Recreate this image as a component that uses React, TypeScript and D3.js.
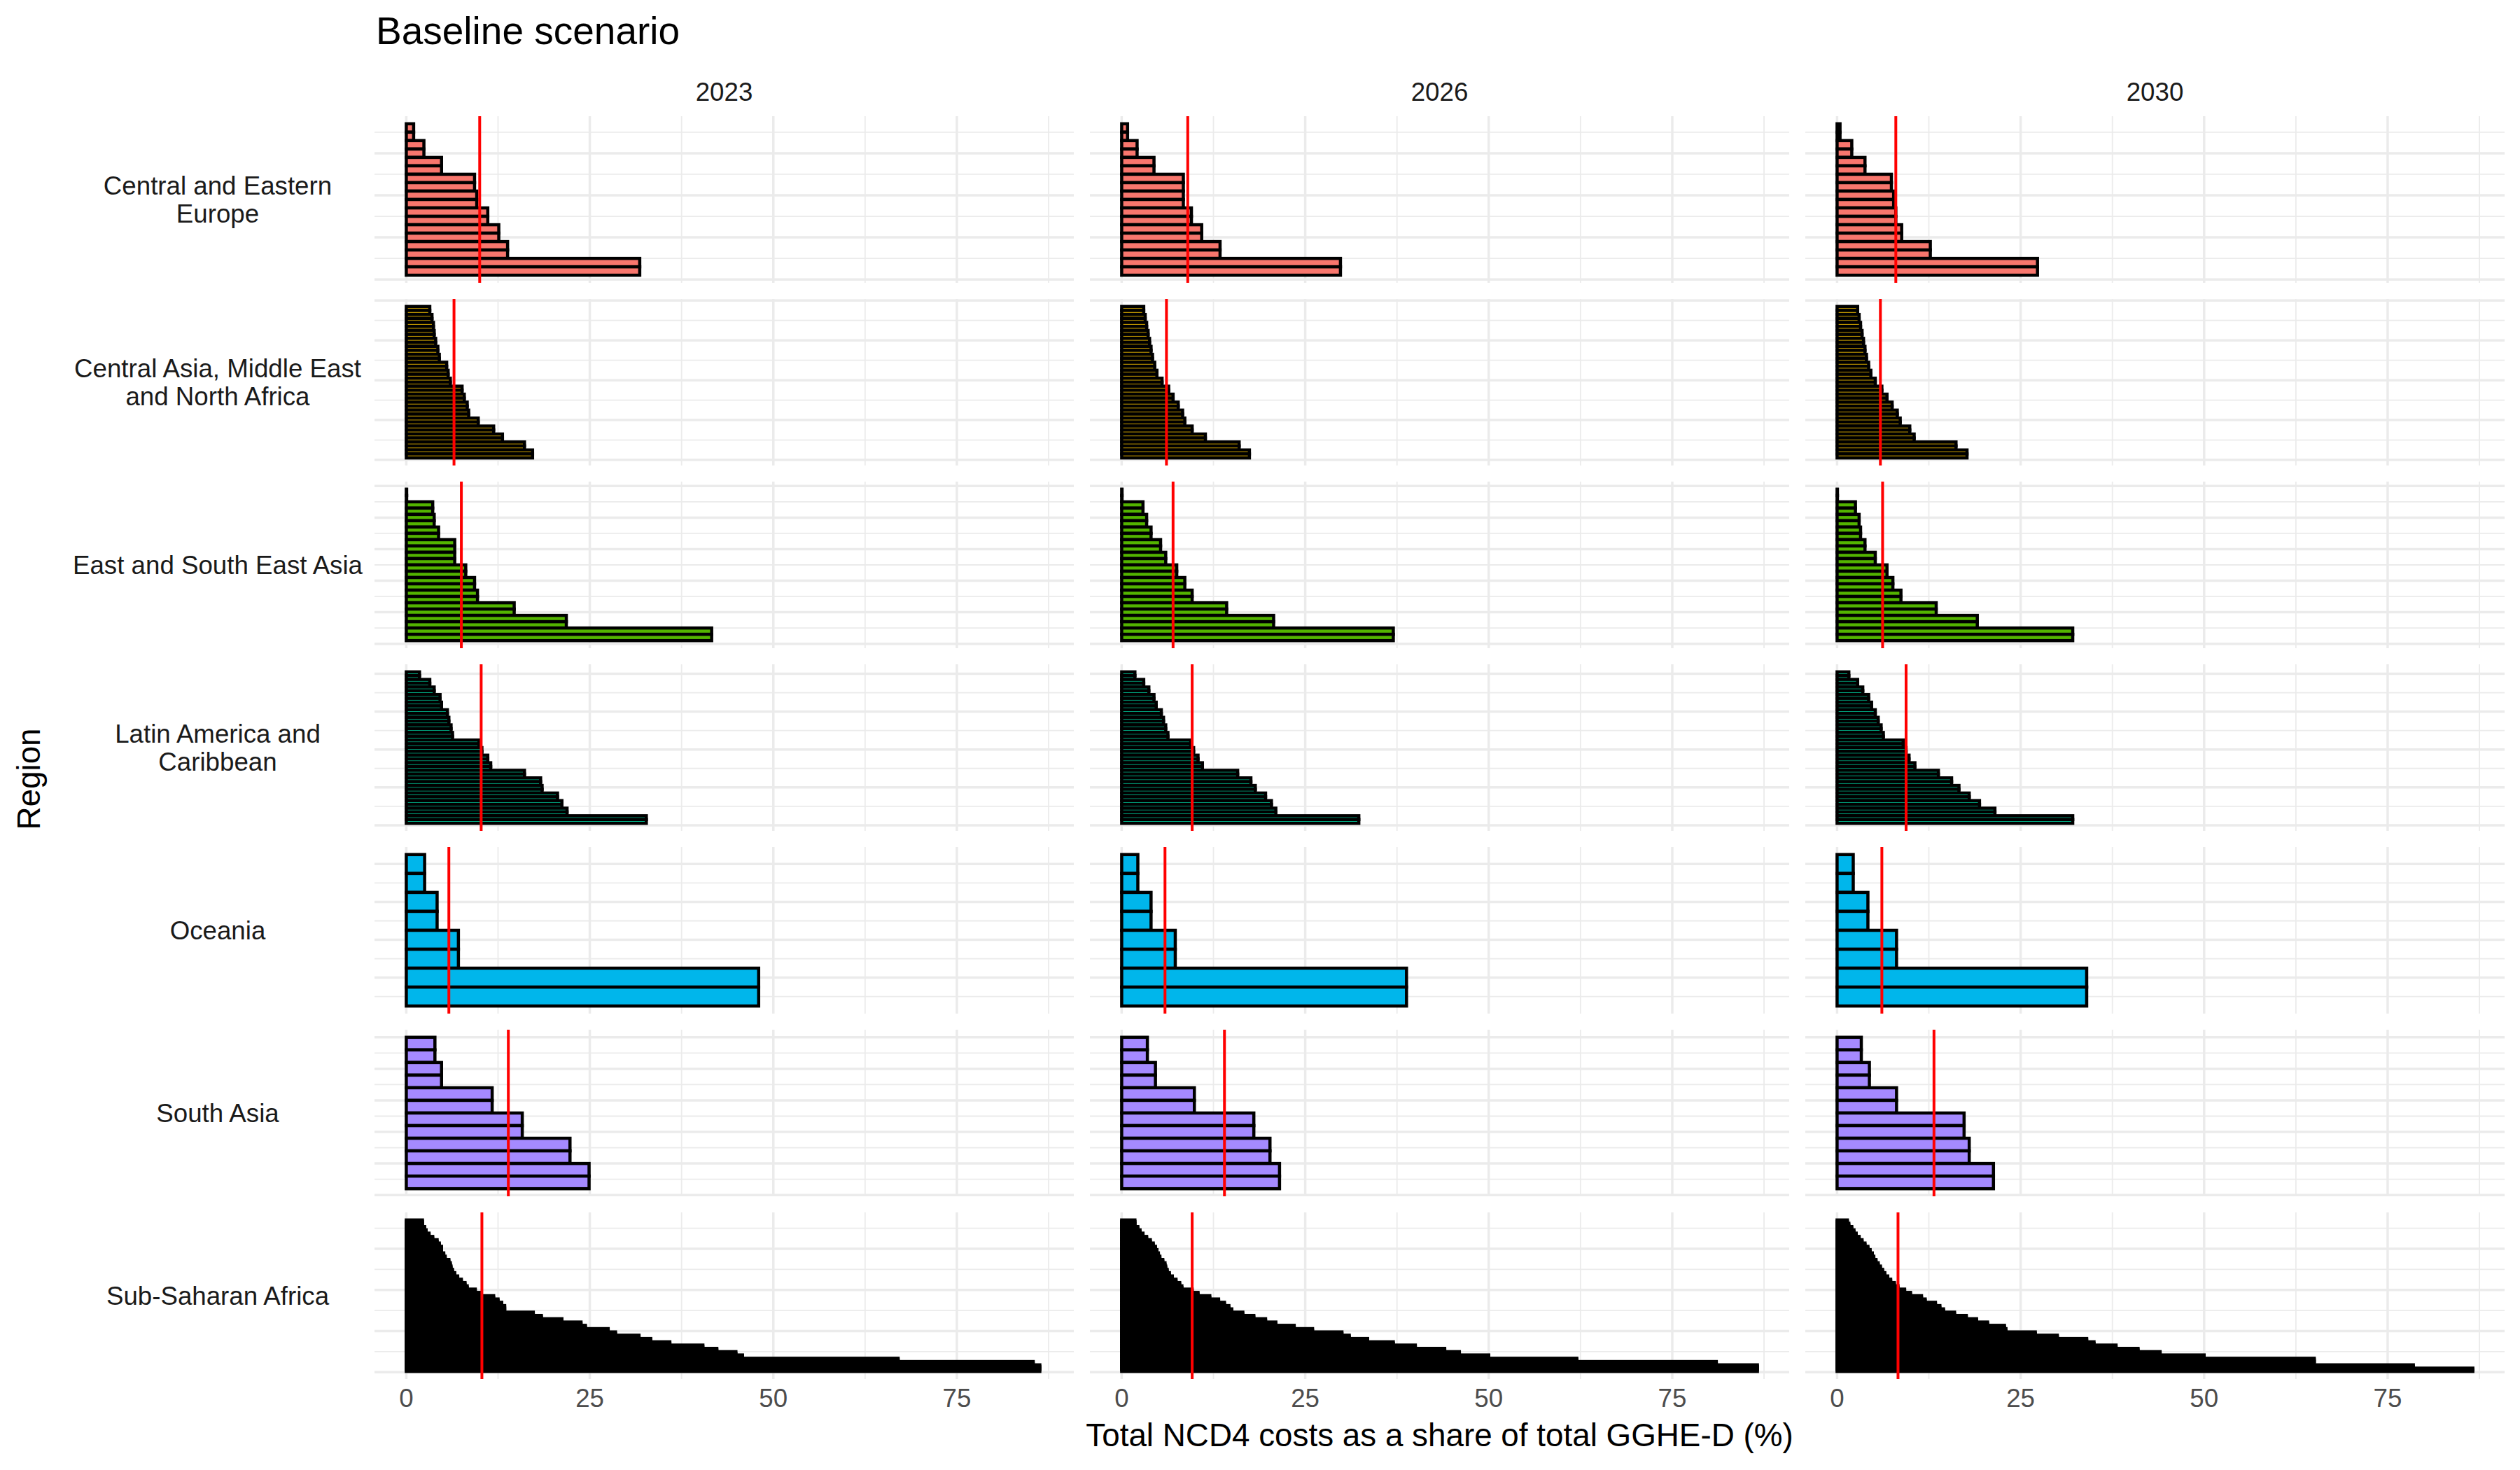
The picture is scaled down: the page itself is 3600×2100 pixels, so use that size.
import React from 'react';
import * as d3 from 'd3';

const years = ['2023', '2026', '2030'];

const regionLabels = [
  ['Central and Eastern', 'Europe'],
  ['Central Asia, Middle East', 'and North Africa'],
  ['East and South East Asia'],
  ['Latin America and', 'Caribbean'],
  ['Oceania'],
  ['South Asia'],
  ['Sub-Saharan Africa'],
];

const regionFills = ['#F8766D', '#C49A00', '#53B400', '#00C094', '#00B6EB', '#A58AFF', '#FB61D7'];

// bar values per panel, listed from the top bar down (%)
const cee2023 = [1.0, 1.0, 2.4, 2.4, 4.8, 4.8, 9.3, 9.3, 9.6, 9.6, 11.1, 11.1, 12.6, 12.6, 13.8, 13.8, 31.8, 31.8];
const cee2026 = [0.8, 0.8, 2.1, 2.1, 4.4, 4.4, 8.4, 8.4, 8.4, 8.4, 9.5, 9.5, 10.9, 10.9, 13.4, 13.4, 29.8, 29.8];
const cee2030 = [0.4, 0.4, 2.0, 2.0, 3.8, 3.8, 7.4, 7.4, 7.7, 7.7, 8.0, 8.0, 8.8, 8.8, 12.7, 12.7, 27.3, 27.3];

const cam2023 = [3.2, 3.2, 3.5, 3.5, 3.7, 3.7, 3.8, 3.8, 4.0, 4.0, 4.3, 4.3, 4.5, 4.5, 5.5, 5.5, 5.7, 5.7, 6.0, 6.0,
  7.6, 7.6, 7.9, 7.9, 8.3, 8.3, 8.5, 8.5, 9.8, 9.8, 11.9, 11.9, 13.1, 13.1, 16.1, 16.1, 17.2, 17.2];
const cam2026 = [3.0, 3.0, 3.2, 3.2, 3.4, 3.4, 3.6, 3.6, 3.8, 3.8, 4.0, 4.0, 4.2, 4.2, 4.5, 4.5, 4.8, 4.8, 5.5, 5.5,
  6.4, 6.4, 7.0, 7.0, 7.7, 7.7, 8.3, 8.3, 8.6, 8.6, 9.6, 9.6, 11.4, 11.4, 16.0, 16.0, 17.4, 17.4];
const cam2030 = [2.8, 2.8, 3.0, 3.0, 3.2, 3.2, 3.4, 3.4, 3.6, 3.6, 3.8, 3.8, 4.0, 4.0, 4.3, 4.3, 4.6, 4.6, 5.2, 5.2,
  6.1, 6.1, 6.8, 6.8, 7.5, 7.5, 8.2, 8.2, 8.6, 8.6, 9.9, 9.9, 10.5, 10.5, 16.2, 16.2, 17.7, 17.7];

const esea2023 = [0.05, 0.05, 3.6, 3.6, 3.8, 3.8, 4.4, 4.4, 6.6, 6.6, 6.6, 6.6, 8.1, 8.1, 9.3, 9.3, 9.7, 9.7, 14.7, 14.7, 21.8, 21.8, 41.6, 41.6];
const esea2026 = [0.05, 0.05, 2.9, 2.9, 3.4, 3.4, 4.0, 4.0, 5.3, 5.3, 6.0, 6.0, 7.5, 7.5, 8.6, 8.6, 9.6, 9.6, 14.3, 14.3, 20.7, 20.7, 37.0, 37.0];
const esea2030 = [0.05, 0.05, 2.5, 2.5, 3.0, 3.0, 3.2, 3.2, 3.8, 3.8, 5.2, 5.2, 6.8, 6.8, 7.6, 7.6, 8.7, 8.7, 13.5, 13.5, 19.1, 19.1, 32.1, 32.1];

const lac2023 = [1.8, 1.8, 3.2, 3.2, 3.8, 3.8, 4.6, 4.6, 4.8, 4.8, 5.6, 5.6, 5.8, 5.8, 6.1, 6.1, 6.3, 6.3, 9.9, 9.9,
  10.3, 10.3, 11.1, 11.1, 11.5, 11.5, 16.1, 16.1, 18.3, 18.3, 18.5, 18.5, 20.6, 20.6, 21.2, 21.2, 21.9, 21.9, 32.7, 32.7];
const lac2026 = [1.8, 1.8, 3.0, 3.0, 3.7, 3.7, 4.4, 4.4, 4.7, 4.7, 5.4, 5.4, 5.7, 5.7, 6.0, 6.0, 6.3, 6.3, 9.4, 9.4,
  9.8, 9.8, 10.4, 10.4, 11.0, 11.0, 15.8, 15.8, 17.6, 17.6, 18.2, 18.2, 19.6, 19.6, 20.4, 20.4, 21.0, 21.0, 32.3, 32.3];
const lac2030 = [1.6, 1.6, 2.8, 2.8, 3.5, 3.5, 4.3, 4.3, 4.7, 4.7, 5.2, 5.2, 5.6, 5.6, 6.0, 6.0, 6.3, 6.3, 9.0, 9.0,
  9.4, 9.4, 9.8, 9.8, 10.6, 10.6, 13.8, 13.8, 15.6, 15.6, 16.6, 16.6, 18.0, 18.0, 19.4, 19.4, 21.5, 21.5, 32.1, 32.1];

const oce2023 = [2.5, 2.5, 4.2, 4.2, 7.1, 7.1, 48.0, 48.0];
const oce2026 = [2.2, 2.2, 4.0, 4.0, 7.3, 7.3, 38.8, 38.8];
const oce2030 = [2.2, 2.2, 4.2, 4.2, 8.1, 8.1, 34.0, 34.0];

const sas2023 = [3.9, 3.9, 4.8, 4.8, 11.7, 11.7, 15.8, 15.8, 22.3, 22.3, 24.9, 24.9];
const sas2026 = [3.5, 3.5, 4.6, 4.6, 9.9, 9.9, 18.0, 18.0, 20.2, 20.2, 21.5, 21.5];
const sas2030 = [3.3, 3.3, 4.4, 4.4, 8.1, 8.1, 17.3, 17.3, 18.0, 18.0, 21.3, 21.3];

const ssa2023 = [
  2.2, 2.2, 2.2, 2.2, 2.5, 2.5, 2.7, 2.7, 3.1, 3.1, 3.6, 3.6, 4.2, 4.2, 4.5, 4.5, 4.8, 4.8, 4.8, 4.8,
  5.1, 5.1, 5.3, 5.3, 5.8, 5.8, 6.0, 6.0, 6.1, 6.1, 6.3, 6.3, 6.6, 6.6, 7.0, 7.0, 7.5, 7.5, 8.0, 8.0,
  8.3, 8.3, 9.4, 9.4, 10.2, 10.2, 11.9, 11.9, 12.5, 12.5, 13.0, 13.0, 13.4, 13.4, 13.4, 13.4, 17.3, 17.3, 18.4, 18.4,
  21.2, 21.2, 23.8, 23.8, 24.4, 24.4, 27.5, 27.5, 28.5, 28.5, 31.7, 31.7, 33.3, 33.3, 35.9, 35.9, 40.4, 40.4, 42.3, 42.3,
  44.9, 44.9, 45.8, 45.8, 67.0, 67.0, 85.4, 85.4, 86.3, 86.3, 86.3, 86.3];
const ssa2026 = [
  1.8, 1.8, 1.8, 1.8, 2.2, 2.2, 2.5, 2.5, 2.9, 2.9, 3.4, 3.4, 3.9, 3.9, 4.3, 4.3, 4.6, 4.6, 4.8, 4.8,
  5.0, 5.0, 5.2, 5.2, 5.6, 5.6, 5.9, 5.9, 6.0, 6.0, 6.2, 6.2, 6.5, 6.5, 6.9, 6.9, 7.4, 7.4, 7.9, 7.9,
  8.2, 8.2, 9.6, 9.6, 10.4, 10.4, 12.0, 12.0, 13.2, 13.2, 14.0, 14.0, 14.6, 14.6, 15.0, 15.0, 16.5, 16.5, 18.0, 18.0,
  19.6, 19.6, 21.0, 21.0, 23.5, 23.5, 26.0, 26.0, 30.0, 30.0, 31.0, 31.0, 33.5, 33.5, 37.0, 37.0, 40.0, 40.0, 44.0, 44.0,
  46.0, 46.0, 50.0, 50.0, 62.0, 62.0, 81.0, 81.0, 86.6, 86.6, 86.6, 86.6];
const ssa2030 = [
  1.4, 1.4, 1.6, 1.6, 2.0, 2.0, 2.3, 2.3, 2.6, 2.6, 3.0, 3.0, 3.4, 3.4, 3.8, 3.8, 4.2, 4.2, 4.5, 4.5,
  4.8, 4.8, 5.0, 5.0, 5.3, 5.3, 5.6, 5.6, 5.9, 5.9, 6.2, 6.2, 6.5, 6.5, 6.9, 6.9, 7.3, 7.3, 7.8, 7.8,
  8.3, 8.3, 9.2, 9.2, 10.0, 10.0, 11.5, 11.5, 12.0, 12.0, 13.4, 13.4, 14.0, 14.0, 14.5, 14.5, 16.0, 16.0, 17.6, 17.6,
  19.0, 19.0, 20.5, 20.5, 22.8, 22.8, 23.0, 23.0, 27.0, 27.0, 30.0, 30.0, 34.0, 34.0, 35.0, 35.0, 38.0, 38.0, 41.0, 41.0,
  44.0, 44.0, 50.0, 50.0, 65.0, 65.0, 65.0, 65.0, 78.5, 78.5, 86.6, 86.6];

// red reference line per region (2023, 2026, 2030)
const ceeLine = [10.0, 9.0, 8.0];
const camLine = [6.5, 6.1, 5.9];
const eseaLine = [7.5, 7.0, 6.2];
const lacLine = [10.2, 9.6, 9.4];
const oceLine = [5.8, 5.9, 6.1];
const sasLine = [13.9, 14.0, 13.2];
const ssaLine = [10.3, 9.6, 8.3];

const panelBars = [
  [cee2023, cee2026, cee2030],
  [cam2023, cam2026, cam2030],
  [esea2023, esea2026, esea2030],
  [lac2023, lac2026, lac2030],
  [oce2023, oce2026, oce2030],
  [sas2023, sas2026, sas2030],
  [ssa2023, ssa2026, ssa2030],
];
const panelLines = [ceeLine, camLine, eseaLine, lacLine, oceLine, sasLine, ssaLine];

// ggplot-like "extended" break search (Talbot et al.)
function extendedBreaks(dmin: number, dmax: number, m = 5): number[] {
  const Q = [1, 5, 2, 2.5, 4, 3];
  const w = [0.25, 0.2, 0.5, 0.05];
  const eps = 1e-10;
  const nQ = Q.length;
  const range = dmax - dmin;
  const mod = (a: number, b: number) => ((a % b) + b) % b;
  let best: number[] | null = null;
  let bestScore = -2;
  let j = 1;
  outer: while (j < 30) {
    for (let qi = 0; qi < nQ; qi++) {
      const q = Q[qi];
      const sm = 1 - qi / (nQ - 1) - j + 1;
      if (w[0] * sm + w[1] + w[2] + w[3] < bestScore) break outer;
      let k = 2;
      while (k < 60) {
        const dm = k >= m ? 2 - (k - 1) / (m - 1) : 1;
        if (w[0] * sm + w[1] + w[2] * dm + w[3] < bestScore) break;
        const delta = range / (k + 1) / j / q;
        let z = Math.ceil(Math.log10(delta));
        while (z < 20) {
          const step = j * q * Math.pow(10, z);
          const span = step * (k - 1);
          let cm = 1;
          if (span > range) {
            const half = (span - range) / 2;
            cm = 1 - (0.5 * (2 * half * half)) / Math.pow(0.1 * range, 2);
          }
          if (w[0] * sm + w[1] * cm + w[2] * dm + w[3] < bestScore) break;
          const minStart = Math.floor(dmax / step) * j - (k - 1) * j;
          const maxStart = Math.ceil(dmin / step) * j;
          for (let start = minStart; start <= maxStart; start++) {
            const lmin = start * (step / j);
            const lmax = lmin + step * (k - 1);
            const r0 = mod(lmin, step);
            const v = (r0 < eps || step - r0 < eps) && lmin <= 0 && lmax >= 0 ? 1 : 0;
            const s = 1 - qi / (nQ - 1) - j + v;
            const c = 1 - (0.5 * (Math.pow(dmax - lmax, 2) + Math.pow(dmin - lmin, 2))) / Math.pow(0.1 * range, 2);
            const r = (k - 1) / (lmax - lmin);
            const rt = (m - 1) / (Math.max(lmax, dmax) - Math.min(dmin, lmin));
            const g = 2 - Math.max(r / rt, rt / r);
            const score = w[0] * s + w[1] * c + w[2] * g + w[3];
            if (score > bestScore) {
              bestScore = score;
              best = [lmin, lmax, step];
            }
          }
          z++;
        }
        k++;
      }
    }
    j++;
  }
  if (!best) return [];
  const [lmin, lmax, step] = best;
  const out: number[] = [];
  for (let t = lmin; t <= lmax + step * 1e-6; t += step) out.push(Math.round(t / step) * step);
  return out;
}

function gridBreaks(lo: number, hi: number) {
  const majors = extendedBreaks(lo, hi).filter(b => b >= lo && b <= hi);
  const minors: number[] = [];
  if (majors.length >= 2) {
    const bd = majors[1] - majors[0];
    const b = [...majors];
    if (lo < b[0]) b.unshift(b[0] - bd);
    if (hi > b[b.length - 1]) b.push(b[b.length - 1] + bd);
    for (let i = 0; i < b.length - 1; i++) minors.push((b[i] + b[i + 1]) / 2);
  }
  return { majors, minors: minors.filter(b => b >= lo && b <= hi) };
}

const W = 3600;
const H = 2100;
const plotLeft = 535;
const plotRight = 3578;
const plotTop = 166;
const plotBottom = 1970;
const gap = 23;
const colW = (plotRight - plotLeft - 2 * gap) / 3;
const rowH = (plotBottom - plotTop - 6 * gap) / 7;
const font = "'Liberation Sans', Arial, Helvetica, sans-serif";
const gridColor = '#EBEBEB';

export default function App() {
  const maxV = d3.max(panelBars.flat(2)) as number;
  const x = d3.scaleLinear().domain([-0.05 * maxV, maxV * 1.05]).range([0, colW]);
  const xGrid = gridBreaks(x.domain()[0], x.domain()[1]);

  return (
    <svg width={W} height={H} style={{ position: 'absolute', left: 0, top: 0, background: '#fff' }}>
      <rect width={W} height={H} fill="#fff" />
      <text x={plotLeft + 2} y={63} fontFamily={font} fontSize={55} fill="#000">Baseline scenario</text>

      {years.map((yr, c) => (
        <text key={yr} x={plotLeft + c * (colW + gap) + colW / 2} y={144} textAnchor="middle"
          fontFamily={font} fontSize={36.7} fill="#1A1A1A">{yr}</text>
      ))}

      {panelBars.map((rowBars, r) => {
        const n = rowBars[0].length;
        const pad = 0.05 * n;
        const y = d3.scaleLinear().domain([0.5 - pad, n + 0.5 + pad]).range([rowH, 0]);
        const yGrid = gridBreaks(y.domain()[0], y.domain()[1]);
        const top = plotTop + r * (rowH + gap);
        const labels = regionLabels[r];
        const lh = 40;
        return (
          <g key={r}>
            <text x={311} y={top + rowH / 2 - ((labels.length - 1) * lh) / 2 + 13} textAnchor="middle"
              fontFamily={font} fontSize={36.7} fill="#1A1A1A">
              {labels.map((t, i) => (
                <tspan key={i} x={311} dy={i === 0 ? 0 : lh}>{t}</tspan>
              ))}
            </text>
            {rowBars.map((vals, c) => {
              const left = plotLeft + c * (colW + gap);
              return (
                <g key={c} transform={`translate(${left},${top})`}>
                  {yGrid.minors.map(t => (
                    <line key={'ym' + t} x1={0} x2={colW} y1={y(t)} y2={y(t)} stroke={gridColor} strokeWidth={1.8} />
                  ))}
                  {xGrid.minors.map(t => (
                    <line key={'xm' + t} x1={x(t)} x2={x(t)} y1={0} y2={rowH} stroke={gridColor} strokeWidth={1.8} />
                  ))}
                  {yGrid.majors.map(t => (
                    <line key={'yM' + t} x1={0} x2={colW} y1={y(t)} y2={y(t)} stroke={gridColor} strokeWidth={3.5} />
                  ))}
                  {xGrid.majors.map(t => (
                    <line key={'xM' + t} x1={x(t)} x2={x(t)} y1={0} y2={rowH} stroke={gridColor} strokeWidth={3.5} />
                  ))}
                  {vals.map((v, i) => {
                    const pos = n - i;
                    return (
                      <rect key={i} x={x(0)} width={x(v) - x(0)} y={y(pos + 0.5)} height={y(pos - 0.5) - y(pos + 0.5)}
                        fill={regionFills[r]} stroke="#000" strokeWidth={4.5} />
                    );
                  })}
                  <line x1={x(panelLines[r][c])} x2={x(panelLines[r][c])} y1={0} y2={rowH} stroke="#FF0000" strokeWidth={4} />
                </g>
              );
            })}
          </g>
        );
      })}

      {years.map((yr, c) => {
        const left = plotLeft + c * (colW + gap);
        return (
          <g key={'ax' + yr}>
            {xGrid.majors.map(t => (
              <text key={t} x={left + x(t)} y={2010} textAnchor="middle" fontFamily={font} fontSize={36.7} fill="#4D4D4D">
                {d3.format('~g')(t)}
              </text>
            ))}
          </g>
        );
      })}

      <text x={(plotLeft + plotRight) / 2} y={2066} textAnchor="middle" fontFamily={font} fontSize={45.8} fill="#000">
        Total NCD4 costs as a share of total GGHE-D (%)
      </text>
      <text transform={`translate(57,1113) rotate(-90)`} textAnchor="middle" fontFamily={font} fontSize={45.8} fill="#000">
        Region
      </text>
    </svg>
  );
}
